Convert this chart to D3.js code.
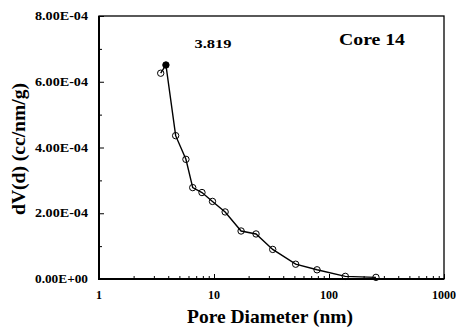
<!DOCTYPE html>
<html><head><meta charset="utf-8">
<script src="https://cdn.jsdelivr.net/npm/d3@7"></script>
<style>body{margin:0;background:#fff}svg{display:block}
text{font-family:"Liberation Serif","Times New Roman",Times,serif;font-weight:bold}</style>
</head><body>
<svg id="c" width="456" height="329"></svg>
<script>
const diameters = [3.44, 3.819, 4.64, 5.70, 6.53, 7.86, 9.7, 12.5, 17.2, 23.2, 32.4, 51.3, 78.7, 138.6, 256];
const volumes = [6.26e-4, 6.51e-4, 4.36e-4, 3.64e-4, 2.78e-4, 2.63e-4, 2.36e-4, 2.04e-4, 1.46e-4, 1.37e-4, 0.90e-4, 0.45e-4, 0.28e-4, 0.08e-4, 0.05e-4];
const peakIndex = [1];
const xTickValues = [1, 10, 100, 1000];
const yTickValues = [0, 2e-4, 4e-4, 6e-4, 8e-4];
const yTickLabels = ["0.00E+00", "2.00E-04", "4.00E-04", "6.00E-04", "8.00E-04"];
const peakLabel = "3.819";
const coreLabel = "Core 14";
const xTitle = "Pore Diameter (nm)";
const yTitle = "dV(d) (cc/nm/g)";

const L = 99, R = 444, T = 16, B = 279;
const svg = d3.select("#c");
const x = d3.scaleLog().domain([1, 1000]).range([L, R]);
const y = d3.scaleLinear().domain([0, 8e-4]).range([B, T]);

// frame
svg.append("rect").attr("x", L).attr("y", T).attr("width", R - L).attr("height", B - T)
  .attr("fill", "none").attr("stroke", "#000").attr("stroke-width", 1.3);

// x minor/major ticks (inside)
const xMinor = [];
for (let dec = 1; dec < 1000; dec *= 10) for (let k = 2; k <= 9; k++) xMinor.push(dec * k);
const gx = svg.append("g").attr("transform", `translate(0,${B})`);
gx.call(d3.axisBottom(x).tickValues(xMinor).tickSize(-3).tickFormat(""));
gx.append("g").call(d3.axisBottom(x).tickValues(xTickValues).tickSize(-5).tickFormat(""));
gx.selectAll(".domain").remove();
gx.selectAll("line").attr("stroke", "#000").attr("stroke-width", 1);
svg.append("g").selectAll("text").data(xTickValues).join("text")
  .attr("x", d => x(d)).attr("y", 299).attr("text-anchor", "middle")
  .attr("font-size", 12)
  .text(d => d3.format("d")(d));

// y ticks
const yMinor = d3.range(1, 8, 2).map(v => v * 1e-4);
const gy = svg.append("g").attr("transform", `translate(${L},0)`);
gy.call(d3.axisLeft(y).tickValues(yMinor).tickSize(-3).tickFormat(""));
gy.append("g").call(d3.axisLeft(y).tickValues(yTickValues).tickSize(-5).tickFormat(""));
gy.selectAll(".domain").remove();
gy.selectAll("line").attr("stroke", "#000").attr("stroke-width", 1);
svg.append("g").selectAll("text").data(yTickValues).join("text")
  .attr("x", 88).attr("y", d => y(d) + 4).attr("text-anchor", "end")
  .attr("font-size", 12)
  .attr("textLength", 53).attr("lengthAdjust", "spacingAndGlyphs")
  .text((d, i) => yTickLabels[i]);

// thick left and bottom axis lines
svg.append("line").attr("x1", L).attr("x2", L).attr("y1", T).attr("y2", B + 1).attr("stroke", "#000").attr("stroke-width", 2);
svg.append("line").attr("x1", L - 1).attr("x2", R).attr("y1", B).attr("y2", B).attr("stroke", "#000").attr("stroke-width", 2);

// line
const pts = diameters.map((d, i) => [d, volumes[i]]);
svg.append("path").datum(pts)
  .attr("d", d3.line().x(d => x(d[0])).y(d => y(d[1])))
  .attr("fill", "none").attr("stroke", "#000").attr("stroke-width", 1.4);

// markers
svg.append("g").selectAll("circle").data(pts).join("circle")
  .attr("cx", d => x(d[0])).attr("cy", d => y(d[1])).attr("r", 3.2)
  .attr("fill", (d, i) => peakIndex.includes(i) ? "#000" : "none")
  .attr("stroke", "#000").attr("stroke-width", 1);

// annotations
svg.append("text").attr("x", 213).attr("y", 48).attr("text-anchor", "middle")
  .attr("font-size", 13)
  .attr("textLength", 37).attr("lengthAdjust", "spacingAndGlyphs").text(peakLabel);
svg.append("text").attr("x", 372).attr("y", 45).attr("text-anchor", "middle")
  .attr("font-size", 17)
  .attr("textLength", 66).attr("lengthAdjust", "spacingAndGlyphs").text(coreLabel);

// axis titles
svg.append("text").attr("x", 270).attr("y", 323).attr("text-anchor", "middle")
  .attr("font-size", 19)
  .attr("textLength", 166).attr("lengthAdjust", "spacingAndGlyphs")
  .text(xTitle);
svg.append("text").attr("transform", "translate(25,149) rotate(-90)").attr("text-anchor", "middle")
  .attr("font-size", 18)
  .attr("textLength", 132).attr("lengthAdjust", "spacingAndGlyphs").text(yTitle);
</script>
</body></html>
